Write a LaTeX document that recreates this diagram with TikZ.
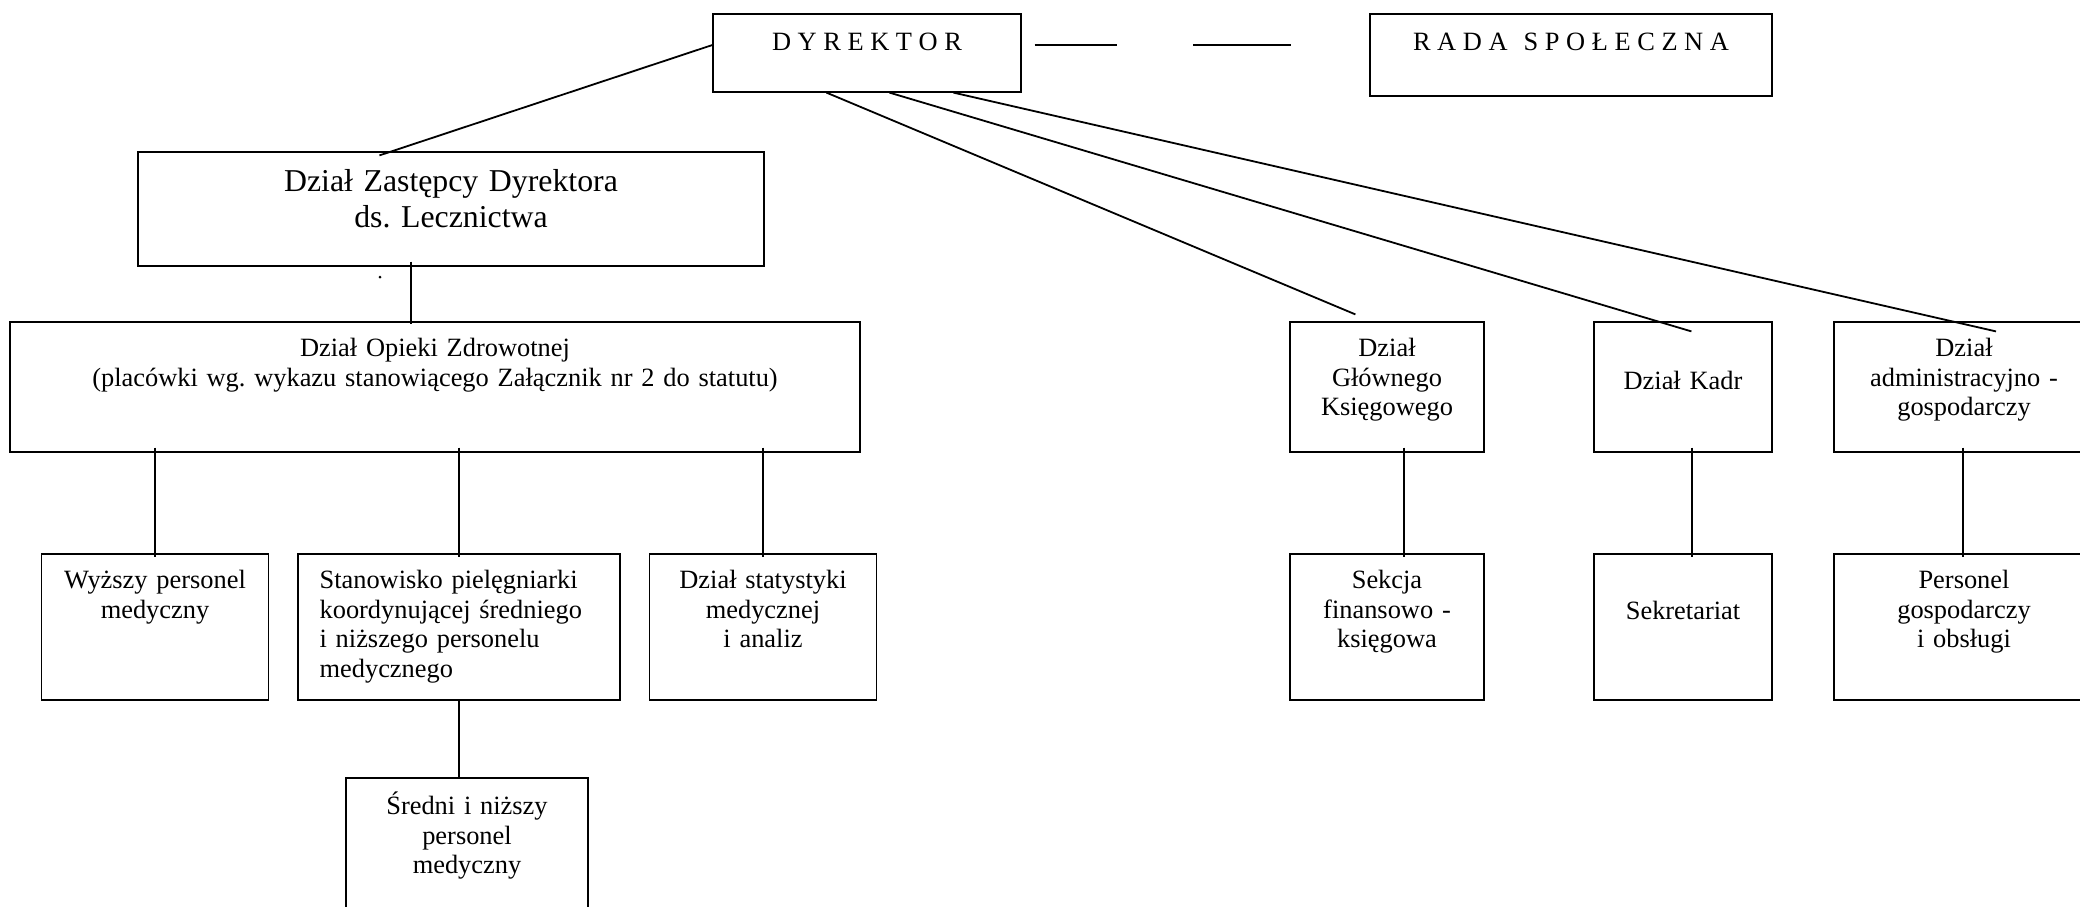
\documentclass[tikz,border=0pt]{standalone}
\usepackage{fontspec}
\setmainfont{Liberation Serif}
\usepackage{tikz}
\frenchspacing

\newcommand{\orgfont}{\fontsize{26.4}{29.6}\selectfont}
\newcommand{\orgbigfont}{\fontsize{31.8}{36}\selectfont}

\begin{document}
\begin{tikzpicture}[x=1pt, y=-1pt,
	box/.style={draw=black, line width=1.2pt, rectangle, inner sep=0pt},
	conn/.style={draw=black, line width=1.8pt},
	lbl/.style={inner sep=0pt, anchor=base, align=center, text width=#1, font=\orgfont},
	lbl/.default=300pt]
	\clip (0,0) rectangle (2080,906);
	
	\node[box, minimum width=308pt, minimum height=78pt] (dyr) at (867,53) {};
	\node[box, minimum width=402pt, minimum height=82pt] (rada) at (1571,55) {};
	\node[box, minimum width=626pt, minimum height=114pt] (zast) at (451,209) {};
	\node[box, minimum width=850pt, minimum height=130pt] (opieka) at (435,387) {};
	\node[box, minimum width=227pt, minimum height=146pt] (wyzszy) at (155,627) {};
	\node[box, minimum width=322pt, minimum height=146pt] (piel) at (459,627) {};
	\node[box, minimum width=227pt, minimum height=146pt] (stat) at (763,627) {};
	\node[box, minimum width=242pt, minimum height=162pt] (sredni) at (467,859) {};
	
	\node[box, minimum width=194pt, minimum height=130pt] (glowny) at (1387,387) {};
	\node[box, minimum width=178pt, minimum height=130pt] (kadry) at (1683,387) {};
	\node[box, minimum width=260pt, minimum height=130pt] (admin) at (1964,387) {};
	\node[box, minimum width=194pt, minimum height=146pt] (sekcja) at (1387,627) {};
	\node[box, minimum width=178pt, minimum height=146pt] (sekr) at (1683,627) {};
	\node[box, minimum width=260pt, minimum height=146pt] (gosp) at (1964,627) {};
	
	\node[lbl] (dyr-t) at ([yshift=-37pt]dyr.north) {\spaceskip=6.6pt D Y R E K T O R};
	\node[lbl=390pt] (rada-t) at ([yshift=-37pt]rada.north) {\spaceskip=6.6pt R A D A\hspace{16pt}S P O Ł E C Z N A};
	\node[lbl=600pt, font=\orgbigfont] (zast-t) at ([yshift=-40pt]zast.north) {Dział Zastępcy Dyrektora\\ds. Lecznictwa};
	\node[lbl=820pt] (opieka-t) at ([yshift=-35pt]opieka.north) {Dział Opieki Zdrowotnej\\(placówki wg. wykazu stanowiącego Załącznik nr 2 do statutu)};
	\node[lbl=220pt] (wyzszy-t) at ([yshift=-35pt]wyzszy.north) {Wyższy personel\\medyczny};
	\node[lbl=295pt, align=left, anchor=base west] (piel-t) at ([xshift=22pt, yshift=-35pt]piel.north west) {Stanowisko pielęgniarki\\koordynującej średniego\\i niższego personelu\\medycznego};
	\node[lbl=220pt] (stat-t) at ([yshift=-35pt]stat.north) {Dział statystyki\\medycznej\\i analiz};
	\node[lbl=235pt] (sredni-t) at ([yshift=-37pt]sredni.north) {Średni i niższy\\personel\\medyczny};
	
	\node[lbl=190pt] (glowny-t) at ([yshift=-35pt]glowny.north) {Dział\\Głównego\\Księgowego};
	\node[lbl=175pt] (kadry-t) at ([yshift=-68pt]kadry.north) {Dział Kadr};
	\node[lbl=255pt] (admin-t) at ([yshift=-35pt]admin.north) {Dział\\administracyjno -\\gospodarczy};
	\node[lbl=190pt] (sekcja-t) at ([yshift=-35pt]sekcja.north) {Sekcja\\finansowo -\\księgowa};
	\node[lbl=175pt] (sekr-t) at ([yshift=-66pt]sekr.north) {Sekretariat};
	\node[lbl=255pt] (gosp-t) at ([yshift=-35pt]gosp.north) {Personel\\gospodarczy\\i obsługi};
	
	\draw[conn] ([xshift=13pt, yshift=8pt]dyr.east) -- ([xshift=95pt, yshift=8pt]dyr.east);
	\draw[conn] ([xshift=-176pt, yshift=10pt]rada.west) -- ([xshift=-78pt, yshift=10pt]rada.west);
	
	\draw[conn] ([yshift=8pt]dyr.west) -- ([xshift=242pt, yshift=-4pt]zast.north west);
	\draw[conn] ([xshift=114pt]dyr.south west) -- ([xshift=66pt, yshift=7pt]glowny.north west);
	\draw[conn] ([xshift=177pt]dyr.south west) -- ([xshift=98pt, yshift=-10pt]kadry.north west);
	\draw[conn] ([xshift=241pt]dyr.south west) -- ([xshift=32pt, yshift=-10pt]admin.north);
	
	\fill (380,277) circle (1.5);
	\draw[conn] ([xshift=-40pt, yshift=5pt]zast.south) -- ([xshift=-24pt, yshift=-3pt]opieka.north);
	
	\draw[conn] ([yshift=5pt]opieka.south -| wyzszy.north) -- ([yshift=-4pt]wyzszy.north);
	\draw[conn] ([yshift=5pt]opieka.south -| piel.north) -- ([yshift=-4pt]piel.north);
	\draw[conn] ([yshift=5pt]opieka.south -| stat.north) -- ([yshift=-4pt]stat.north);
	\draw[conn] (piel.south) -- (piel.south |- sredni.north);
	
	\draw[conn] ([xshift=17pt, yshift=5pt]glowny.south) -- ([xshift=17pt, yshift=-4pt]sekcja.north);
	\draw[conn] ([xshift=9pt, yshift=5pt]kadry.south) -- ([xshift=9pt, yshift=-4pt]sekr.north);
	\draw[conn] ([xshift=-1pt, yshift=5pt]admin.south) -- ([xshift=-1pt, yshift=-4pt]gosp.north);
\end{tikzpicture}
\end{document}
